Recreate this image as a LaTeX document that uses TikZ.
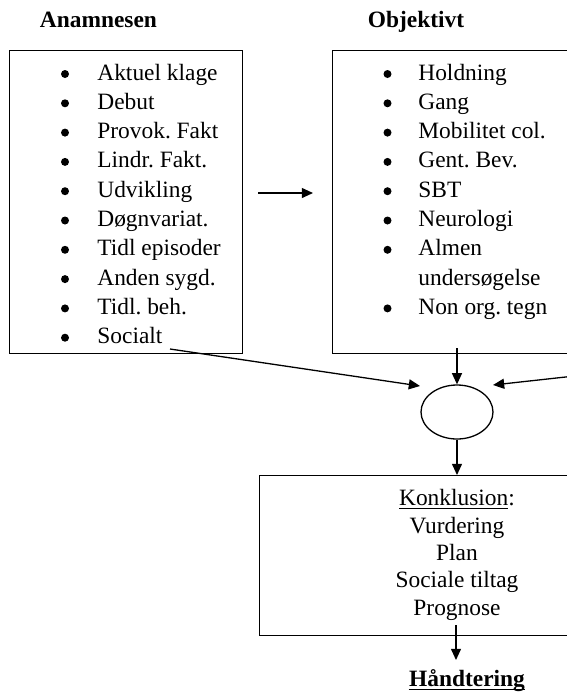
\documentclass[tikz,border=0pt]{standalone}
\usepackage{fontspec}
\setmainfont{Liberation Serif}
\usetikzlibrary{arrows.meta,shapes.geometric}
\frenchspacing
\begin{document}
\begin{tikzpicture}[x=0.5pt,y=-0.5pt,
  box/.style={draw,line width=0.65pt,anchor=north west,inner sep=0pt},
  item/.style={anchor=base west,inner sep=0pt,font=\fontsize{11.7}{14}\selectfont},
  ctext/.style={anchor=base,inner sep=0pt,font=\fontsize{11.7}{14}\selectfont},
  title/.style={anchor=base,inner sep=0pt,font=\fontsize{11.7}{14}\selectfont\bfseries},
  arr/.style={line width=0.65pt,-{Triangle[length=5.6pt,width=5pt]}},
  dot/.style={circle,fill,inner sep=0pt,minimum size=4pt},
  oval/.style={draw,ellipse,line width=0.65pt,inner sep=0pt,minimum width=36pt,minimum height=27pt}]
\useasboundingbox (0,0) rectangle (567,692);
\clip (0,0) rectangle (567,692);

% titles
\node[title] (tA) at (98.5,27) {Anamnesen};
\node[title] (tO) at (416,27) {Objektivt};

% boxes
\node[box,minimum width=116.5pt,minimum height=151.5pt] (anam) at (9,50) {};
\node[box,minimum width=150pt,minimum height=151.5pt] (obj) at (332,50) {};
\node[box,minimum width=200pt,minimum height=80pt] (konk) at (259,475) {};

% left list
\foreach \t [count=\i from 0] in {Aktuel klage, Debut, Provok. Fakt, Lindr. Fakt., Udvikling, Døgnvariat., Tidl episoder, Anden sygd., Tidl. beh., Socialt} {
  \node[dot] (lb\i) at (65,{74+29.3*\i}) {};
  \node[item] (lt\i) at (97,{80+29.3*\i}) {\t};
}

% right list
\foreach \t [count=\i from 0] in {Holdning, Gang, Mobilitet col., Gent. Bev., SBT, Neurologi, Almen} {
  \node[dot] (rb\i) at (387.5,{74+29.3*\i}) {};
  \node[item] (rt\i) at (418,{80+29.3*\i}) {\t};
}
\node[item] (rt7) at (418,{80+29.3*7}) {undersøgelse};
\node[dot] (rb8) at (387.5,{74+29.3*8}) {};
\node[item] (rt8) at (418,{80+29.3*8}) {Non org. tegn};

% ellipse
\node[oval] (e) at (457,412) {};

% conclusion text
\node[ctext] (k1) at (457,505.5) {\underline{Konklusion}:};
\node[ctext] (k2) at (457,533) {Vurdering};
\node[ctext] (k3) at (457,560.3) {Plan};
\node[ctext] (k4) at (457,587.6) {Sociale tiltag};
\node[ctext] (k5) at (457,615) {Prognose};

% Haandtering
\node[title] (h) at (467,686.5) {Håndtering};
\draw[line width=0.6pt] ([yshift=-1.6pt]h.base west) -- ([yshift=-1.6pt]h.base east);

% connectors
\coordinate (a1) at (258,193);
\coordinate (a2) at (313,193);
\draw[arr] (a1) -- (a2);

\coordinate (ot) at (457,348);
\draw[arr] (ot) -- (e.north);

\coordinate (s) at (170,349);
\coordinate (sl) at (420,386);
\draw[arr] (s) -- (sl);

\coordinate (rr) at (620,371);
\coordinate (rl) at (493,385);
\draw[arr] (rr) -- (rl);

\coordinate (kt) at (457,475);
\draw[arr] (e.south) -- (kt);

\coordinate (kb) at (456,625);
\coordinate (kh) at (456,660);
\draw[arr] (kb) -- (kh);
\end{tikzpicture}
\end{document}
